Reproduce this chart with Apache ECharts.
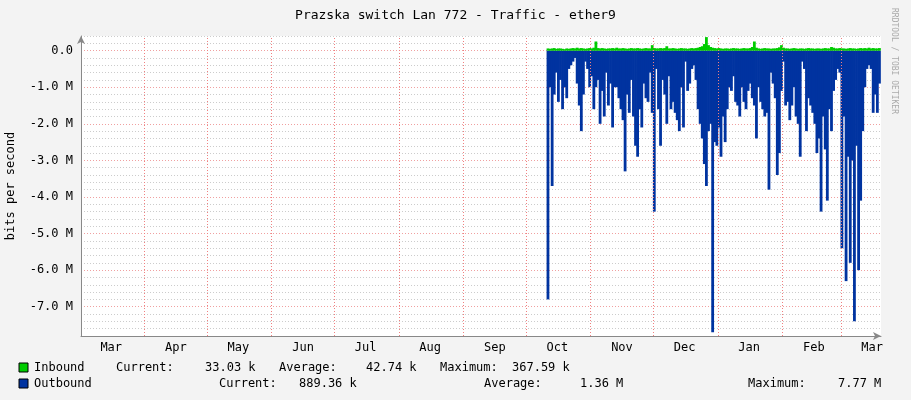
<!DOCTYPE html>
<html><head><meta charset="utf-8">
<script src="https://cdn.jsdelivr.net/npm/echarts@6/dist/echarts.min.js"></script>
<style>html,body{margin:0;padding:0;background:#f3f3f3}#c{width:911px;height:400px}</style>
</head><body><div id="c"></div>
<script>
const title = 'Prazska switch Lan 772 - Traffic - ether9';
const startDay = '2024-10-11';
// outbound (M bits/s, shown negative), one value per day from startDay
const outbound = [
6.8,1.0,3.7,1.2,0.6,1.4,0.8,1.6,1.0,1.3,
0.5,0.4,0.3,0.2,0.9,1.5,2.2,1.2,0.3,0.5,
1.0,0.7,1.6,1.0,0.8,2.0,1.1,1.8,0.6,1.5,
0.9,2.1,1.0,1.0,1.3,1.6,1.9,3.3,1.2,1.7,
0.8,1.8,2.6,2.9,1.6,2.1,0.9,1.3,1.4,0.6,
1.7,4.4,0.5,1.6,2.6,0.8,1.2,2.0,0.7,1.6,
1.4,1.7,1.9,2.2,1.0,2.1,0.3,1.1,0.9,0.5,
0.4,0.8,1.6,2.0,2.4,3.1,3.7,2.2,2.0,7.7,
2.5,2.6,2.1,2.9,1.8,2.5,1.6,1.0,1.1,0.7,
1.4,1.5,1.8,1.0,1.4,1.6,1.1,0.9,1.3,1.5,
2.4,1.0,1.4,1.6,1.8,1.7,3.8,0.6,0.9,1.3,
3.4,2.8,1.1,0.3,1.5,1.4,1.9,1.5,1.0,1.8,
2.0,2.9,0.3,0.5,2.2,1.3,1.5,1.7,2.0,2.8,
2.4,4.4,1.8,2.7,4.1,1.6,2.2,1.1,0.8,0.5,
0.6,5.4,1.8,6.3,2.9,5.8,3.0,7.4,2.6,6.0,
4.1,2.2,1.0,0.5,0.4,0.5,1.7,1.2,1.7,0.9];
// inbound (M bits/s), one value per day
const inbound = [
0.06,0.05,0.06,0.07,0.05,0.06,0.06,0.05,0.04,0.06,
0.05,0.06,0.07,0.06,0.08,0.06,0.07,0.06,0.05,0.06,
0.07,0.06,0.08,0.25,0.07,0.06,0.07,0.06,0.05,0.06,
0.06,0.07,0.06,0.08,0.06,0.06,0.07,0.06,0.05,0.06,
0.07,0.06,0.06,0.07,0.06,0.05,0.06,0.07,0.06,0.06,
0.15,0.07,0.06,0.06,0.07,0.06,0.07,0.12,0.06,0.06,
0.07,0.06,0.05,0.06,0.07,0.06,0.06,0.05,0.06,0.07,
0.06,0.07,0.08,0.10,0.12,0.18,0.37,0.15,0.10,0.08,
0.07,0.06,0.07,0.06,0.05,0.06,0.06,0.05,0.06,0.07,
0.06,0.06,0.05,0.06,0.07,0.06,0.06,0.07,0.10,0.25,
0.08,0.06,0.05,0.06,0.07,0.06,0.06,0.05,0.06,0.06,
0.07,0.09,0.15,0.08,0.06,0.06,0.05,0.06,0.07,0.06,
0.05,0.06,0.06,0.05,0.06,0.07,0.06,0.06,0.05,0.06,
0.06,0.05,0.06,0.07,0.06,0.06,0.10,0.08,0.06,0.06,
0.07,0.06,0.06,0.05,0.06,0.07,0.06,0.06,0.05,0.06,
0.07,0.06,0.07,0.06,0.08,0.06,0.07,0.06,0.06,0.07];
const monthNames = ['Mar','Apr','May','Jun','Jul','Aug','Sep','Oct','Nov','Dec','Jan','Feb','Mar'];
const monthStarts = ['2024-03-01','2024-04-01','2024-05-01','2024-06-01','2024-07-01','2024-08-01','2024-09-01','2024-10-01','2024-11-01','2024-12-01','2025-01-01','2025-02-01','2025-03-01'];
const legendRows = [
  ['Inbound','Current:','33.03 k','Average:','42.74 k','Maximum:','367.59 k'],
  ['Outbound','Current:','889.36 k','Average:','1.36 M','Maximum:','7.77 M']
];

const DAY = 86400000;
const t0 = Date.parse(startDay+'T12:00:00Z');
const outData = outbound.map((v,i)=>[t0+i*DAY, -v*1e6]);
const inData = inbound.map((v,i)=>[t0+i*DAY, v*1e6]);
const ms = monthStarts.map(s=>Date.parse(s+'T00:00:00Z'));
const mids = ms.map(m=>m+15*DAY);
const xmin = Date.parse('2024-03-01T12:00:00Z');
const xmax = Date.parse('2025-03-20T06:00:00Z');
const mono = 'DejaVu Sans Mono';

const chart = echarts.init(document.getElementById('c'));
const g = [];
const cols = [[34,116,205,279,366,440,512],[34,219,299,484,580,748,838]];
legendRows.forEach((row,r)=>{
  const y = r===0?362:378;
  g.push({type:'rect',shape:{x:19,y:y+1,width:9,height:9},style:{fill:r===0?'#00cc00':'#0033a0',stroke:'#000',lineWidth:1}});
  row.forEach((t,k)=>g.push({type:'text',x:cols[r][k],y:y,style:{text:t,font:'12px "'+mono+'"',fill:'#000'}}));
});
g.push({type:'text',x:898,y:8,rotation:-Math.PI/2,style:{text:'RRDTOOL / TOBI OETIKER',font:'8px "'+mono+'"',fill:'#aaa'}});
chart.setOption({
  backgroundColor:'#f3f3f3',
  animation:false,
  title:{text:title,left:'center',top:4,textStyle:{fontFamily:mono,fontSize:13,fontWeight:'normal',color:'#000'}},
  grid:{left:81,right:30,top:36,bottom:64,backgroundColor:'#fff',show:true,borderWidth:0,outerBoundsMode:'none',containLabel:false},
  xAxis:{type:'value',min:xmin,max:xmax,
    axisLine:{onZero:false,lineStyle:{color:'#888'},symbol:['none','arrow'],symbolSize:[6,8]},
    axisTick:{show:false},splitLine:{show:false},
    axisLabel:{customValues:mids,formatter:(v)=>{let b=0,d=Infinity;mids.forEach((m,i)=>{if(Math.abs(m-v)<d){d=Math.abs(m-v);b=i;}});return monthNames[b];},fontFamily:mono,fontSize:12,color:'#000',margin:6,hideOverlap:false}
  },
  yAxis:{type:'value',min:-7.8e6,max:0.4e6,interval:0.2e6,
    name:'bits per second',nameLocation:'middle',nameRotate:90,nameGap:64,nameTextStyle:{fontFamily:mono,fontSize:12,color:'#000'},
    axisLine:{show:true,lineStyle:{color:'#888'},symbol:['none','arrow'],symbolSize:[6,8]},
    axisTick:{show:false},
    splitLine:{lineStyle:{type:[1,2],color:['#ccc','#ccc','#ccc','#ccc','#f0a0a0']}},
    axisLabel:{fontFamily:mono,fontSize:12,color:'#000',formatter:(v)=>{const k=Math.round(v/1e5);if(k%10!==0)return '';if(k===0)return '0.0';return (k/10).toFixed(1)+' M';}}
  },
  series:[
    {type:'bar',name:'Outbound',stack:'a',data:outData,barWidth:2.8,itemStyle:{color:'#0033a0'},
     markLine:{silent:true,symbol:'none',label:{show:false},lineStyle:{color:'#f08080',type:[1,2],width:1},data:ms.slice(1).map(m=>({xAxis:m}))}},
    {type:'bar',name:'Inbound',stack:'a',data:inData,barWidth:2.8,itemStyle:{color:'#00cc00'}}
  ],
  graphic:g
});
</script></body></html>
